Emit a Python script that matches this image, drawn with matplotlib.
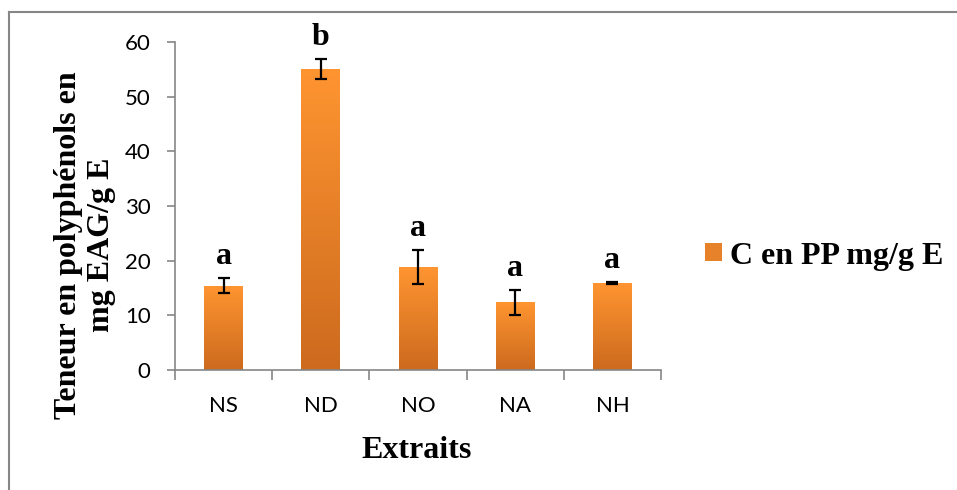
import numpy as np
import matplotlib
matplotlib.use('Agg')
import matplotlib.pyplot as plt
from matplotlib.colors import LinearSegmentedColormap
from matplotlib.patches import Patch
from matplotlib.lines import Line2D

categories = ['NS', 'ND', 'NO', 'NA', 'NH']
values = [15.4, 55.1, 18.8, 12.4, 15.9]
errors = [1.4, 1.8, 3.1, 2.3, 0.2]
letters = ['a', 'b', 'a', 'a', 'a']
series_name = 'C en PP mg/g E'

serif = ['Liberation Serif', 'DejaVu Serif']
tickfont = ['Lato', 'DejaVu Sans']
grey = '#868686'

fig = plt.figure(figsize=(9.57, 4.90), dpi=100)
ax = fig.add_axes([175/957, 1-370/490, (661-175)/957, (370-42)/490])

cmap = LinearSegmentedColormap.from_list('orng', ['#CC6A1E', '#FF9531'])
grad = np.linspace(0, 1, 256).reshape(-1, 1)

x = np.arange(len(categories))
bars = ax.bar(x, values, width=0.4, color='none', edgecolor='none', zorder=2)
for b in bars:
    x0, w, h = b.get_x(), b.get_width(), b.get_height()
    im = ax.imshow(grad, extent=[x0, x0 + w, 0, h], origin='lower',
                   aspect='auto', cmap=cmap, zorder=2)
    im.set_clip_path(b)

ax.errorbar(x, values, yerr=errors, fmt='none', ecolor='black',
            elinewidth=1.6, capsize=4.5, capthick=1.6, zorder=3)

for xi, v, e, l in zip(x, values, errors, letters):
    ax.annotate(l, (xi, v + e), xytext=(0, 5), textcoords='offset points',
                ha='center', va='bottom', fontsize=23, fontweight='bold',
                family=serif)

ax.set_xlim(-0.5, len(categories) - 0.5)
ax.set_ylim(0, 60)
ax.set_yticks(range(0, 61, 10))
ax.set_xticks(x)
ax.set_xticklabels(categories)
ax.set_xticks(np.arange(-0.5, len(categories), 1), minor=True)

for s in ['top', 'right']:
    ax.spines[s].set_visible(False)
for s in ['left', 'bottom']:
    ax.spines[s].set_color(grey)
    ax.spines[s].set_linewidth(1.2)

ax.tick_params(axis='x', which='major', length=0, pad=19, labelsize=16)
ax.tick_params(axis='x', which='minor', length=7, width=1.2, color=grey, direction='out')
ax.tick_params(axis='y', length=5.5, width=1.2, color=grey, pad=12, labelsize=16)
for t in ax.get_xticklabels() + ax.get_yticklabels():
    t.set_family(tickfont)

fig.text(85/957, 1-245/490, 'Teneur en polyphénols en\nmg EAG/g E', rotation=90,
         ha='center', va='center', multialignment='center', fontsize=23,
         fontweight='bold', family=serif, linespacing=1.2)
fig.text(417/957, 1-450/490, 'Extraits', ha='center', va='center',
         fontsize=23, fontweight='bold', family=serif)

handle = Patch(facecolor='#E8822A', edgecolor='none')
fig.legend([handle], [series_name], loc='center left',
           bbox_to_anchor=(705/957, 1-256/490), frameon=False,
           borderpad=0, borderaxespad=0,
           handlelength=0.53, handleheight=0.5, handletextpad=0.25,
           prop={'family': serif, 'weight': 'bold', 'size': 23})

# outer frame (left and top edges only visible)
fig.add_artist(Line2D([9/957, 9/957], [0, 1-12/490], transform=fig.transFigure,
                      color=grey, lw=1.5))
fig.add_artist(Line2D([9/957, 1], [1-12/490, 1-12/490], transform=fig.transFigure,
                      color=grey, lw=1.5))

fig.savefig('out.png', dpi=100)
